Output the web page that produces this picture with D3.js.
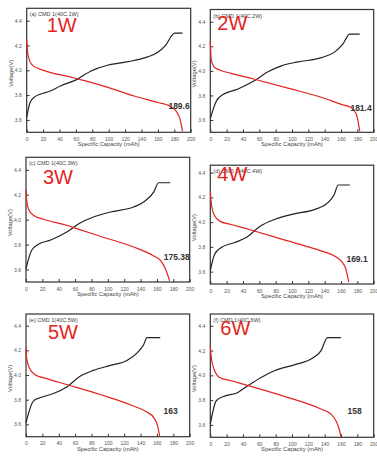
<!DOCTYPE html>
<html>
<head>
<meta charset="utf-8">
<script src="https://cdn.jsdelivr.net/npm/d3@7"></script>
<style>
  body { margin: 0; background: #fff; }
  svg { display: block; font-family: "Liberation Sans", Arial, sans-serif; }
</style>
</head>
<body>
<svg id="chart" width="377" height="458"></svg>
<script>
// power labels, panel titles and end-of-discharge capacities
const powers = ['1W', '2W', '3W', '4W', '5W', '6W'];
const titles = ['(a) CMD 1(40C.1W)', '(b) CMD 1(40C.2W)', '(c) CMD 1(40C.3W)',
                '(d) CMD 1(40C.4W)', '(e) CMD 1(40C.5W)', '(f) CMD 1(40C.6W)'];
const capacities = ['189.6', '181.4', '175.38', '169.1', '163', '158'];

const xTicks = [0, 20, 40, 60, 80, 100, 120, 140, 160, 180, 200];
const yTicks = [3.6, 3.8, 4.0, 4.2, 4.4];

// [capacity mAh, voltage V]
const charge1W = [[0,3.62],[4.1,3.74],[10.2,3.788],[16.4,3.807],[28.7,3.833],[41,3.873],[61.5,3.927],[77.9,3.993],[98.4,4.041],[114.8,4.06],[131,4.079],[147.5,4.108],[159.8,4.145],[170,4.207],[176.2,4.273],[180.3,4.3],[190,4.3]];
const discharge1W = [[0,4.252],[0.8,4.167],[2,4.113],[6.1,4.047],[12.3,4.02],[20.5,3.999],[32.8,3.975],[49.2,3.953],[61.5,3.932],[90.2,3.881],[131,3.793],[160,3.74],[174,3.713],[182,3.673],[187,3.607],[190,3.51]];

const charge2W = [[0,3.612],[7.3,3.753],[15.5,3.807],[33.9,3.852],[54.3,3.921],[70.6,3.993],[87,4.041],[107.3,4.073],[136,4.108],[152,4.153],[162.4,4.22],[170.6,4.3],[182.9,4.3]];
const discharge2W = [[0,4.24],[1.2,4.087],[4.5,4.033],[11.4,4.007],[25.7,3.98],[54.3,3.932],[95,3.86],[136,3.785],[160.4,3.727],[172.7,3.7],[178.8,3.647],[182.9,3.51]];

const charge3W = [[0,3.608],[6.9,3.755],[15.1,3.803],[29.4,3.835],[49.8,3.901],[66.1,3.973],[82.4,4.021],[102.9,4.061],[131.4,4.101],[143.7,4.141],[156,4.221],[162,4.296],[176.3,4.296]];
const discharge3W = [[0,4.24],[0.8,4.155],[2.9,4.088],[9,4.035],[21.2,4.003],[49.8,3.955],[62,3.928],[90.6,3.867],[131.4,3.781],[156,3.709],[164,3.675],[170.2,3.608],[175.4,3.51]];

const charge4W = [[0,3.608],[5.3,3.741],[13.4,3.795],[29.7,3.835],[43.9,3.875],[60.2,3.963],[78.5,4.021],[102.8,4.067],[127.2,4.101],[143.5,4.155],[151.6,4.221],[156.5,4.3],[170.7,4.3]];
const discharge4W = [[0,4.248],[1.2,4.155],[4.5,4.061],[11.4,4.008],[25.6,3.981],[54,3.928],[94.7,3.848],[135.4,3.768],[151.6,3.728],[159.8,3.688],[165.9,3.621],[169.5,3.515]];

const charge5W = [[0,3.614],[9,3.789],[17.1,3.816],[33.5,3.85],[49.8,3.904],[66.1,3.99],[82.4,4.038],[102.9,4.078],[123.3,4.118],[135.5,4.178],[143.7,4.245],[147.8,4.303],[164,4.303]];
const discharge5W = [[0,4.218],[0.8,4.137],[4.1,4.057],[11,4.003],[25.3,3.971],[49.8,3.923],[90.6,3.842],[131.4,3.749],[147.8,3.7],[156,3.655],[160.8,3.588],[163.3,3.507]];

const charge6W = [[0,3.607],[7.3,3.795],[15.4,3.827],[33.7,3.862],[45.9,3.916],[62.2,3.983],[78.5,4.037],[102.8,4.085],[123.2,4.131],[135.4,4.198],[143.5,4.305],[159.8,4.305]];
const discharge6W = [[0,4.239],[1.2,4.145],[4.5,4.051],[11.4,3.983],[25.6,3.956],[54,3.903],[94.7,3.822],[135.4,3.728],[147.6,3.688],[153.7,3.634],[157.7,3.567],[159.8,3.508]];

const charges = [charge1W, charge2W, charge3W, charge4W, charge5W, charge6W];
const discharges = [discharge1W, discharge2W, discharge3W, discharge4W, discharge5W, discharge6W];

// frame box of each panel in the picture, plus where the labels sit
const layout = [
  { l: 26.7, r: 190.7, t: 8.3, b: 132.3, vMax: 4.5, wx: 20, wy: 24, cx: -1, cy: 101 },
  { l: 210.3, r: 373.7, t: 9.5, b: 132.3, vMax: 4.5, wx: 7, wy: 20, cx: -2, cy: 101 },
  { l: 26.0, r: 189.7, t: 157.3, b: 282, vMax: 4.5, wx: 17, wy: 27, cx: 0, cy: 103 },
  { l: 210.3, r: 373.7, t: 165.2, b: 284, vMax: 4.46, wx: 7, wy: 16, cx: -6, cy: 97 },
  { l: 26.0, r: 189.7, t: 314, b: 436.7, vMax: 4.495, wx: 22, wy: 25, cx: -12, cy: 100 },
  { l: 210.3, r: 373.7, t: 314, b: 437.3, vMax: 4.495, wx: 10, wy: 21, cx: -12, cy: 100 }
];

const svg = d3.select('#chart');
const red = '#e3241d';

layout.forEach((p, i) => {
  const x = d3.scaleLinear().domain([0, 200]).range([p.l, p.r]);
  const y = d3.scaleLinear().domain([3.5, p.vMax]).range([p.b, p.t]);
  const g = svg.append('g');

  // bottom axis, ticks pointing inward
  const xAxis = g.append('g').attr('transform', `translate(0,${p.b})`)
    .call(d3.axisBottom(x).tickValues(xTicks).tickSize(-3).tickPadding(5).tickFormat(d3.format('d')));
  const yAxis = g.append('g').attr('transform', `translate(${p.l},0)`)
    .call(d3.axisLeft(y).tickValues(yTicks).tickSize(-3).tickPadding(5).tickFormat(d3.format('.1f')));
  [xAxis, yAxis].forEach(a => {
    a.select('.domain').remove();
    a.selectAll('.tick line').attr('stroke', '#333');
    a.selectAll('.tick text').attr('fill', '#555').style('font-size', '5px');
  });

  g.append('rect')
    .attr('x', p.l).attr('y', p.t)
    .attr('width', p.r - p.l).attr('height', p.b - p.t)
    .attr('fill', 'none').attr('stroke', '#333').attr('stroke-width', 1.2);

  const line = d3.line().x(d => x(d[0])).y(d => y(d[1])).curve(d3.curveMonotoneX);

  g.append('path').datum(charges[i])
    .attr('d', line).attr('fill', 'none').attr('stroke', '#222').attr('stroke-width', 1.2);
  g.append('path').datum(discharges[i])
    .attr('d', line).attr('fill', 'none').attr('stroke', red).attr('stroke-width', 1.2);

  g.append('text').attr('x', p.l + 3).attr('y', p.t + 8)
    .attr('fill', '#444').style('font-size', '5.5px').text(titles[i]);

  g.append('text').attr('x', p.l + p.wx).attr('y', p.t + p.wy)
    .attr('fill', red).style('font-size', '20px').text(powers[i]);

  g.append('text').attr('x', p.r + p.cx).attr('y', p.t + p.cy)
    .attr('text-anchor', 'end').attr('fill', '#333')
    .style('font-size', '8.5px').style('font-weight', 'bold').text(capacities[i]);

  g.append('text')
    .attr('x', (p.l + p.r) / 2).attr('y', p.b + 14)
    .attr('text-anchor', 'middle').attr('fill', '#444').style('font-size', '5.8px')
    .text('Specific Capacity (mAh)');

  g.append('text')
    .attr('transform', `translate(${p.l - 14},${(p.t + p.b) / 2 + 3}) rotate(-90)`)
    .attr('text-anchor', 'middle').attr('fill', '#444').style('font-size', '5.8px')
    .text('Voltage(V)');
});
</script>
</body>
</html>
